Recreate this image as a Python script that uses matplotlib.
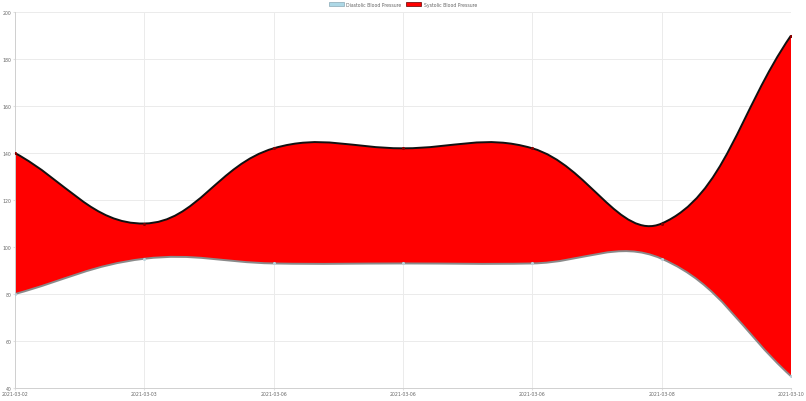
import numpy as np
import matplotlib
matplotlib.use("Agg")
import matplotlib.pyplot as plt
from matplotlib.path import Path
from matplotlib.patches import PathPatch, Patch

fechas = ["2021-03-02", "2021-03-03", "2021-03-06", "2021-03-06",
          "2021-03-06", "2021-03-08", "2021-03-10"]
sistolica = [140, 110, 142, 142, 142, 110, 190]
diastolica = [80, 95, 93, 93, 93, 95, 45]

W, H = 806, 402
fig = plt.figure(figsize=(W / 100, H / 100), dpi=100)
ax = fig.add_axes([15 / W, 13 / H, 776 / W, 376 / H])

x = np.arange(len(fechas))
ax.set_xlim(0, len(fechas) - 1)
ax.set_ylim(40, 200)

# px por unidad, para imitar la curva de chart.js (tension 0.4)
sx = 776 / (len(fechas) - 1)
sy = 376 / 160


def puntos_control(xs, ys, t=0.4):
    px = np.array(xs, float) * sx
    py = np.array(ys, float) * sy
    n = len(px)
    cps = []
    for i in range(n):
        pr = max(i - 1, 0)
        nx = min(i + 1, n - 1)
        d01 = np.hypot(px[i] - px[pr], py[i] - py[pr])
        d12 = np.hypot(px[nx] - px[i], py[nx] - py[i])
        tot = d01 + d12
        s01 = d01 / tot if tot else 0
        s12 = d12 / tot if tot else 0
        fa, fb = t * s01, t * s12
        dx, dy = px[nx] - px[pr], py[nx] - py[pr]
        antes = ((px[i] - fa * dx) / sx, (py[i] - fa * dy) / sy)
        despues = ((px[i] + fb * dx) / sx, (py[i] + fb * dy) / sy)
        cps.append((antes, despues))
    return cps


def segmentos(xs, ys):
    cps = puntos_control(xs, ys)
    verts = [(xs[0], ys[0])]
    for i in range(1, len(xs)):
        verts += [cps[i - 1][1], cps[i][0], (xs[i], ys[i])]
    return verts


def camino(xs, ys):
    verts = segmentos(xs, ys)
    codes = [Path.MOVETO] + [Path.CURVE4] * (len(verts) - 1)
    return Path(verts, codes)


v_sis = segmentos(x, sistolica)
v_dia = segmentos(x, diastolica)[::-1]
verts = v_sis + v_dia + [v_sis[0]]
codes = ([Path.MOVETO] + [Path.CURVE4] * (len(v_sis) - 1)
         + [Path.LINETO] + [Path.CURVE4] * (len(v_dia) - 1) + [Path.CLOSEPOLY])
ax.add_patch(PathPatch(Path(verts, codes), facecolor="#ff0000", edgecolor="none", zorder=2))

ax.add_patch(PathPatch(camino(x, diastolica), facecolor="none", edgecolor="#8a8a8a", lw=1.4, zorder=3))
ax.add_patch(PathPatch(camino(x, sistolica), facecolor="none", edgecolor="#111111", lw=1.4, zorder=3))
ax.scatter(x, diastolica, s=5, color="#b8cfd8", zorder=4, linewidths=0)
ax.scatter(x, sistolica, s=5, color="#8b0000", zorder=4, linewidths=0)

ax.set_xticks(x)
ax.set_xticklabels(fechas)
ax.set_yticks(range(40, 201, 20))
ax.grid(True, color="#ebebeb", lw=0.7)
ax.set_axisbelow(True)
ax.tick_params(labelsize=3.3, labelcolor="#666666", length=1.5, color="#e0e0e0", pad=1)
for lado in ["top", "right"]:
    ax.spines[lado].set_visible(False)
for lado in ["left", "bottom"]:
    ax.spines[lado].set_color("#d0d0d0")
    ax.spines[lado].set_linewidth(0.7)

handles = [Patch(facecolor="#add8e6", edgecolor="#8aa8b5", lw=0.5, label="Diastolic Blood Pressure"),
           Patch(facecolor="#ff0000", edgecolor="#600000", lw=0.5, label="Systolic Blood Pressure")]
leg = fig.legend(handles=handles, loc="center", bbox_to_anchor=(0.5, 1 - 5.5 / H), ncol=2,
                 frameon=False, fontsize=3.3, handlelength=3.3, handleheight=1.0,
                 handletextpad=0.5, columnspacing=1.0, borderpad=0)
for t in leg.get_texts():
    t.set_color("#666666")

fig.savefig("out.png", dpi=100)
